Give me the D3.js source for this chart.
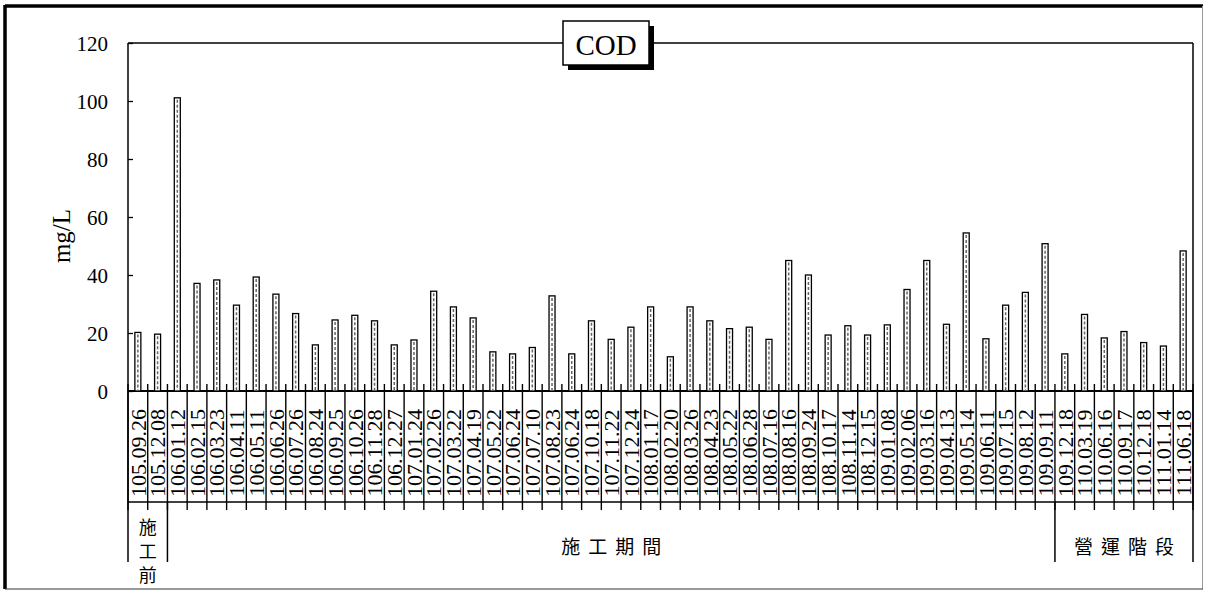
<!DOCTYPE html>
<html><head><meta charset="utf-8">
<script src="https://cdn.jsdelivr.net/npm/d3@7"></script>
<style>body{margin:0;background:#fff}svg{display:block}</style>
</head><body>
<script>
const categories = ["105.09.26","105.12.08","106.01.12","106.02.15","106.03.23","106.04.11","106.05.11","106.06.26","106.07.26","106.08.24","106.09.25","106.10.26","106.11.28","106.12.27","107.01.24","107.02.26","107.03.22","107.04.19","107.05.22","107.06.24","107.07.10","107.08.23","107.06.24","107.10.18","107.11.22","107.12.24","108.01.17","108.02.20","108.03.26","108.04.23","108.05.22","108.06.28","108.07.16","108.08.16","108.09.24","108.10.17","108.11.14","108.12.15","109.01.08","109.02.06","109.03.16","109.04.13","109.05.14","109.06.11","109.07.15","109.08.12","109.09.11","109.12.18","110.03.19","110.06.16","110.09.17","110.12.18","111.01.14","111.06.18"];
const codValues = [20.2,19.6,101.1,37.1,38.3,29.6,39.3,33.4,26.7,15.9,24.5,26.1,24.2,15.9,17.6,34.4,29,25.2,13.5,12.8,15,32.8,12.8,24.2,17.8,22,29,11.8,29,24.2,21.5,22,17.8,45,40,19.3,22.5,19.3,22.8,35,45,23,54.5,18,29.6,34,50.8,12.8,26.4,18.3,20.5,16.7,15.5,48.3];
const groupNames = ["施工前","施工期間","營運階段"];
const groupSizes = [2,45,7];
const yTicks = [0,20,40,60,80,100,120];
const titleText = "COD";
const yLabel = "mg/L";

const W = 1205, H = 591;
const L = 128, R = 1193, T = 43, B = 391;
const svg = d3.select("body").append("svg").attr("width", W).attr("height", H);
const serif = "'Liberation Serif','Times New Roman',serif";
const cjk = "'Noto Sans CJK TC','Noto Sans CJK SC',sans-serif";

const x = d3.scaleBand().domain(d3.range(categories.length)).range([L, R]).padding(0);
const y = d3.scaleLinear().domain([0, 120]).range([B, T]);

// outer frame
svg.append("line").attr("x1",5).attr("y1",6).attr("x2",1203).attr("y2",6).attr("stroke","#000").attr("stroke-width",3.5);
svg.append("line").attr("x1",5).attr("y1",5).attr("x2",5).attr("y2",589).attr("stroke","#000").attr("stroke-width",3.5);
svg.append("line").attr("x1",1202.5).attr("y1",6).attr("x2",1202.5).attr("y2",589).attr("stroke","#999").attr("stroke-width",1);
svg.append("line").attr("x1",5).attr("y1",589).attr("x2",1203).attr("y2",589).attr("stroke","#333").attr("stroke-width",1);

// y axis ticks (inward)
const yAxis = d3.axisLeft(y).tickValues(yTicks).tickSize(-5).tickPadding(20).tickFormat(d3.format("d"));
const ga = svg.append("g").attr("transform", `translate(${L},0)`).call(yAxis);
ga.select(".domain").remove();
ga.selectAll("line").attr("stroke","#000").attr("stroke-width",1.3);
ga.selectAll("text").attr("font-family", serif).attr("font-size", 21).attr("fill","#000").attr("dy","0.35em");

// plot frame
const fr = svg.append("g").attr("stroke","#000").attr("stroke-width",1.5);
fr.append("line").attr("x1",L).attr("y1",T).attr("x2",R).attr("y2",T);
fr.append("line").attr("x1",R).attr("y1",T).attr("x2",R).attr("y2",562);
fr.append("line").attr("x1",L).attr("y1",T).attr("x2",L).attr("y2",562);
fr.append("line").attr("x1",L).attr("y1",B).attr("x2",R).attr("y2",B).attr("stroke-width",2);
fr.append("line").attr("x1",L).attr("y1",502).attr("x2",R).attr("y2",502);

// category tick lines
svg.append("g").selectAll("line").data(d3.range(categories.length + 1)).join("line")
  .attr("x1", i => i < categories.length ? x(i) : R)
  .attr("x2", i => i < categories.length ? x(i) : R)
  .attr("y1", 384).attr("y2", 510)
  .attr("stroke","#000").attr("stroke-width",1.4);

// bars
const bw = 6;
const bars = svg.append("g");
bars.selectAll("rect").data(codValues).join("rect")
  .attr("x", (d,i) => x(i) + x.bandwidth()/2 - bw/2)
  .attr("y", d => y(d))
  .attr("width", bw)
  .attr("height", d => y(0) - y(d))
  .attr("fill","#fff").attr("stroke","#000").attr("stroke-width",1.3);
bars.selectAll("line").data(codValues).join("line")
  .attr("x1", (d,i) => x(i) + x.bandwidth()/2)
  .attr("x2", (d,i) => x(i) + x.bandwidth()/2)
  .attr("y1", d => y(d) + 2).attr("y2", y(0))
  .attr("stroke","#666").attr("stroke-width",1.5).attr("stroke-dasharray","3,2");

// category labels
svg.append("g").selectAll("text").data(categories).join("text")
  .attr("transform", (d,i) => `translate(${x(i) + x.bandwidth()/2},453) rotate(-90)`)
  .attr("text-anchor","middle").attr("dy","0.35em")
  .attr("font-family", serif).attr("font-size", 22).attr("fill","#000")
  .text(d => d);

// groups
let start = 0;
const groups = groupNames.map((n,k) => { const g = {name:n, s:start, e:start+groupSizes[k]}; start += groupSizes[k]; return g; });
groups.forEach((g,k) => {
  const x0 = x(g.s), x1 = g.e < categories.length ? x(g.e) : R;
  if (k > 0) svg.append("line").attr("x1",x0).attr("x2",x0).attr("y1",502).attr("y2",562).attr("stroke","#000").attr("stroke-width",1.5);
  const cx = (x0 + x1) / 2;
  if (x1 - x0 < 60) {
    const t = svg.append("text").attr("font-family", cjk).attr("font-size",18).attr("text-anchor","middle").attr("fill","#000");
    Array.from(g.name).forEach((ch,j) => t.append("tspan").attr("x",cx).attr("y",534 + j*24).text(ch));
  } else {
    svg.append("text").attr("x", cx + 4).attr("y", 554).attr("text-anchor","middle")
      .attr("font-family", cjk).attr("font-size",19).attr("letter-spacing","8px").attr("fill","#000").text(g.name);
  }
});

// y label
svg.append("text").attr("transform","translate(70,236) rotate(-90)").attr("text-anchor","middle")
  .attr("font-family", serif).attr("font-size",25).attr("fill","#000").text(yLabel);

// title box
const tx = 563, ty = 21, tw = 86, th = 44;
svg.append("rect").attr("x",tx+5).attr("y",ty+5).attr("width",tw).attr("height",th).attr("fill","#000");
svg.append("rect").attr("x",tx).attr("y",ty).attr("width",tw).attr("height",th).attr("fill","#fff").attr("stroke","#000").attr("stroke-width",1.5);
svg.append("text").attr("x",tx+tw/2).attr("y",55).attr("text-anchor","middle")
  .attr("font-family", serif).attr("font-size",29).attr("fill","#000").text(titleText);
</script>
</body></html>
